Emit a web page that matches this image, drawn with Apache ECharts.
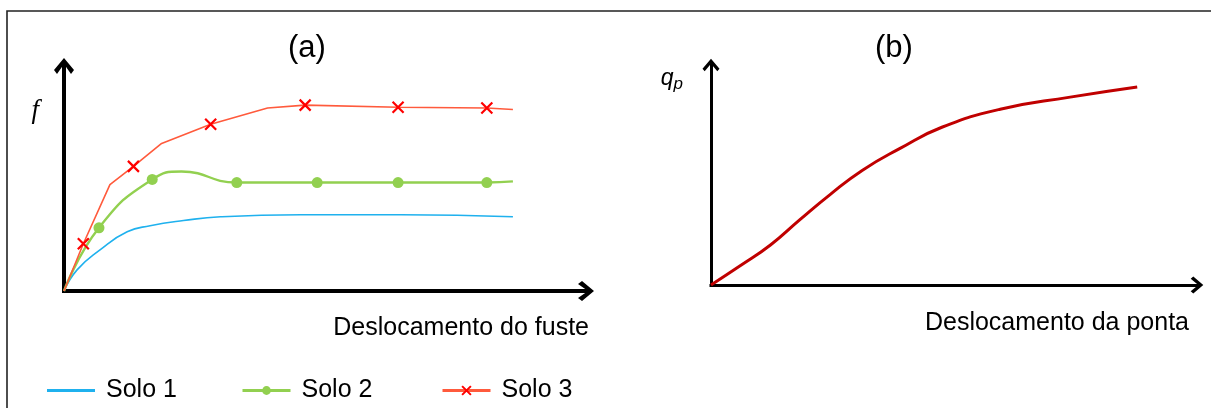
<!DOCTYPE html>
<html>
<head>
<meta charset="utf-8">
<script src="https://cdn.jsdelivr.net/npm/echarts@6/dist/echarts.min.js"></script>
<style>
  html, body { margin: 0; padding: 0; background: #ffffff; }
  #chart { width: 1211px; height: 408px; }
</style>
</head>
<body>
<div id="chart"></div>
<script>
// ---- Panel (a): shaft friction f vs. shaft displacement, three soils ----
const solo1X = [0, 2.5, 6.9, 12.1, 16.5, 22.9, 30.0, 45.4, 64.6, 86.0];
const solo1Y = [0, 9.4, 18.3, 26.3, 29.0, 31.3, 33.0, 33.9, 33.9, 33.0];

const solo2X = [0, 6.7, 16.9, 22.5, 33.1, 48.5, 64.0, 81.0, 86.0];
const solo2Y = [0, 28.1, 49.6, 53.1, 48.2, 48.2, 48.2, 48.2, 48.7];
const solo2Marks = [false, true, true, false, true, true, true, true, false];

const solo3X = [0, 3.7, 8.8, 13.3, 18.7, 28.1, 39.0, 46.2, 64.0, 81.0, 86.0];
const solo3Y = [0, 21.0, 47.3, 55.4, 65.6, 74.1, 81.3, 82.6, 81.7, 81.3, 80.7];
const solo3Marks = [false, true, false, true, false, true, false, true, true, true, false];

// ---- Panel (b): tip resistance q_p vs. tip displacement ----
const pontaX = [0, 6.0, 12.3, 18.3, 24.5, 31.1, 38.9, 47.5, 59.5, 73.9, 87.7];
const pontaY = [0, 8.7, 18.3, 29.7, 41.1, 52.1, 62.1, 71.7, 79.9, 85.4, 90.0];

const seriesNames = ['Solo 1', 'Solo 2', 'Solo 3'];
const panelTitles = ['(a)', '(b)'];
const xAxisNames = ['Deslocamento do fuste', 'Deslocamento da ponta'];

const FONT = '"Liberation Sans", Arial, sans-serif';

// Open chevron arrowheads for the axis ends (pointing "up" in symbol space)
const ARROW_BIG = 'path://M10,0 L20,12 L17,16 L10,6 L3,16 L0,12 Z';
const ARROW_SMALL = 'path://M8.5,0 L17,10 L14.8,12.6 L8.5,5 L2.2,12.6 L0,10 Z';
const CROSS = 'path://M0,0 L10,10 M10,0 L0,10';

function points(xs, ys, marks) {
  return xs.map((x, i) => {
    const item = { value: [x, ys[i]] };
    if (marks && !marks[i]) item.symbol = 'none';
    return item;
  });
}

function axisLine(width, arrow, size) {
  return {
    show: true,
    onZero: false,
    symbol: ['none', arrow],
    symbolSize: size,
    lineStyle: { color: '#000', width: width, cap: 'square' }
  };
}

const hidden = {
  axisTick: { show: false },
  axisLabel: { show: false },
  splitLine: { show: false }
};

const titleStyle = { fontSize: 31, fontWeight: 'normal', color: '#000', fontFamily: FONT };
const nameStyle = { fontSize: 25, color: '#000', fontFamily: FONT };

const chart = echarts.init(document.getElementById('chart'), null, { renderer: 'canvas' });

chart.setOption({
  animation: false,
  backgroundColor: '#ffffff',
  title: [
    { text: panelTitles[0], left: 288, top: 33, padding: 0, textStyle: titleStyle },
    { text: panelTitles[1], left: 875, top: 33, padding: 0, textStyle: titleStyle }
  ],
  grid: [
    { left: 64, top: 66, width: 522, height: 225, outerBoundsMode: 'none' },
    { left: 711, top: 65, width: 486, height: 220, outerBoundsMode: 'none' }
  ],
  xAxis: [
    Object.assign({
      type: 'value', gridIndex: 0, min: 0, max: 100,
      axisLine: axisLine(4, ARROW_BIG, [20, 16]),
      name: xAxisNames[0], nameLocation: 'end', nameGap: 3,
      nameTextStyle: Object.assign({ align: 'right', verticalAlign: 'top', padding: [25, 0, 0, 0] }, nameStyle)
    }, hidden),
    Object.assign({
      type: 'value', gridIndex: 1, min: 0, max: 100,
      axisLine: axisLine(3, ARROW_SMALL, [17, 13]),
      name: xAxisNames[1], nameLocation: 'end', nameGap: -8,
      nameTextStyle: Object.assign({ align: 'right', verticalAlign: 'top', padding: [26, 0, 0, 0] }, nameStyle)
    }, hidden)
  ],
  yAxis: [
    Object.assign({
      type: 'value', gridIndex: 0, min: 0, max: 100,
      axisLine: axisLine(4, ARROW_BIG, [20, 16]),
      name: 'f', nameLocation: 'end', nameGap: -45,
      nameTextStyle: { fontSize: 27, fontStyle: 'italic', color: '#000',
        fontFamily: '"Liberation Serif", serif',
        align: 'right', verticalAlign: 'middle', padding: [0, 25, 0, 0] }
    }, hidden),
    Object.assign({
      type: 'value', gridIndex: 1, min: 0, max: 100,
      axisLine: axisLine(3, ARROW_SMALL, [17, 13]),
      name: '{q|q}{p|p}', nameLocation: 'end', nameGap: -14,
      nameTextStyle: { color: '#000', fontFamily: FONT,
        align: 'right', verticalAlign: 'middle', padding: [0, 28, 0, 0],
        rich: {
          q: { fontSize: 23, fontStyle: 'italic', color: '#000', fontFamily: FONT },
          p: { fontSize: 17, fontStyle: 'italic', color: '#000', fontFamily: FONT,
               padding: [10, 0, 0, 0] }
        } }
    }, hidden)
  ],
  legend: [
    { data: [{ name: seriesNames[0], icon: 'rect' }], left: 47, top: 378, itemHeight: 3 },
    { data: [seriesNames[1]], left: 241, top: 378, itemHeight: 11 },
    { data: [seriesNames[2]], left: 441, top: 378, itemHeight: 11 }
  ].map(l => Object.assign(l, {
    selectedMode: false,
    itemWidth: 48,
    padding: 0,
    lineStyle: { width: 3 },
    textStyle: { fontSize: 25, color: '#000', fontFamily: FONT, padding: [0, 0, 0, 6] }
  })),
  series: [
    {
      name: seriesNames[0], type: 'line', xAxisIndex: 0, yAxisIndex: 0,
      data: points(solo1X, solo1Y), smooth: 0.5, symbol: 'none',
      lineStyle: { color: '#1fb1ee', width: 1.6 },
      itemStyle: { color: '#1fb1ee' }
    },
    {
      name: seriesNames[1], type: 'line', xAxisIndex: 0, yAxisIndex: 0,
      data: points(solo2X, solo2Y, solo2Marks), smooth: 0.5,
      symbol: 'circle', symbolSize: 11,
      lineStyle: { color: '#92d050', width: 2.4 },
      itemStyle: { color: '#92d050' }
    },
    {
      name: seriesNames[2], type: 'line', xAxisIndex: 0, yAxisIndex: 0,
      data: points(solo3X, solo3Y, solo3Marks), smooth: false,
      symbol: CROSS, symbolSize: 11,
      lineStyle: { color: '#ff5a3c', width: 1.6 },
      itemStyle: { color: '#ff0000', borderColor: '#ff0000', borderWidth: 2.2 }
    },
    {
      name: 'q_p', type: 'line', xAxisIndex: 1, yAxisIndex: 1,
      data: points(pontaX, pontaY), smooth: 0.5, symbol: 'none',
      lineStyle: { color: '#c00000', width: 3 }
    }
  ],
  graphic: [
    { type: 'polyline', silent: true,
      shape: { points: [[7, 408], [7, 11], [1211, 11]] },
      style: { stroke: '#222', lineWidth: 1.6, fill: null } }
  ]
});
</script>
</body>
</html>
